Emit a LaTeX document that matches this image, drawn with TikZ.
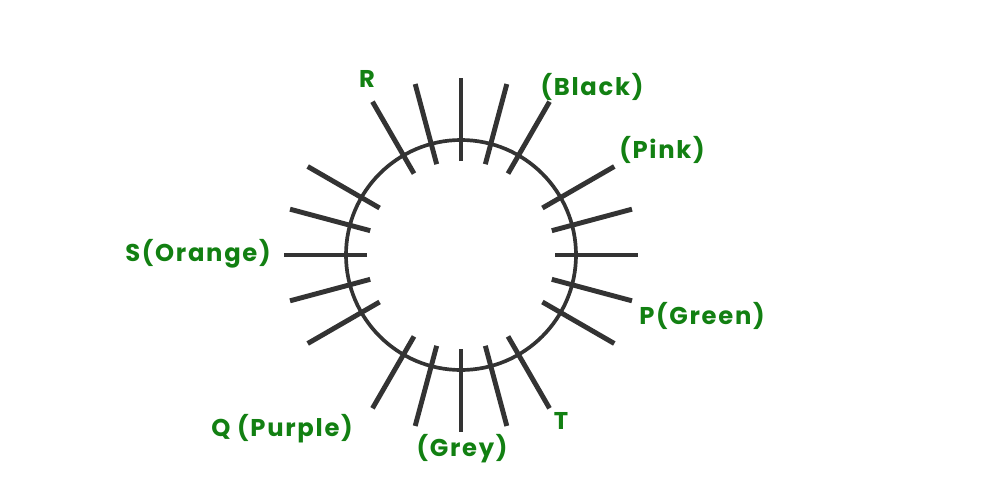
\documentclass[tikz,border=0pt]{standalone}
\usepackage{fontspec}
\usetikzlibrary{calc}
\setmainfont{Poppins}[LetterSpace=7]
\definecolor{lbl}{RGB}{18,128,18}
\definecolor{ink}{RGB}{51,51,51}
\begin{document}
\begin{tikzpicture}[x=0.01cm,y=-0.01cm,
  spoke/.style={draw=ink,line width=1.4pt},
  ring/.style={draw=ink,line width=1.05pt},
  lab/.style={text=lbl,font=\fontsize{6.9}{8}\selectfont\bfseries,inner sep=0pt}]
\useasboundingbox (0,0) rectangle (1000,500);
\coordinate (c) at (461,255);
\draw[ring] (c) circle[radius=115];
\foreach \a in {0,15,30,60,75,90,105,120,150,165,180,195,210,240,255,270,285,300,330,345}{
  \draw[spoke] ($(c)+(\a:94 and -94)$) -- ($(c)+(\a:177 and -177)$);
}
\node[lab] (r) at (367,79) {R};
\node[lab] (black) at (592,87) {(Black)};
\node[lab] (pink) at (662,150) {(Pink)};
\node[lab] (s) at (198,254) {S(Orange)};
\node[lab] (p) at (702,316) {P(Green)};
\node[lab] (q) at (282,429) {Q (Purple)};
\node[lab] (grey) at (462,449) {(Grey)};
\node[lab] (t) at (561,421) {T};
\end{tikzpicture}
\end{document}
